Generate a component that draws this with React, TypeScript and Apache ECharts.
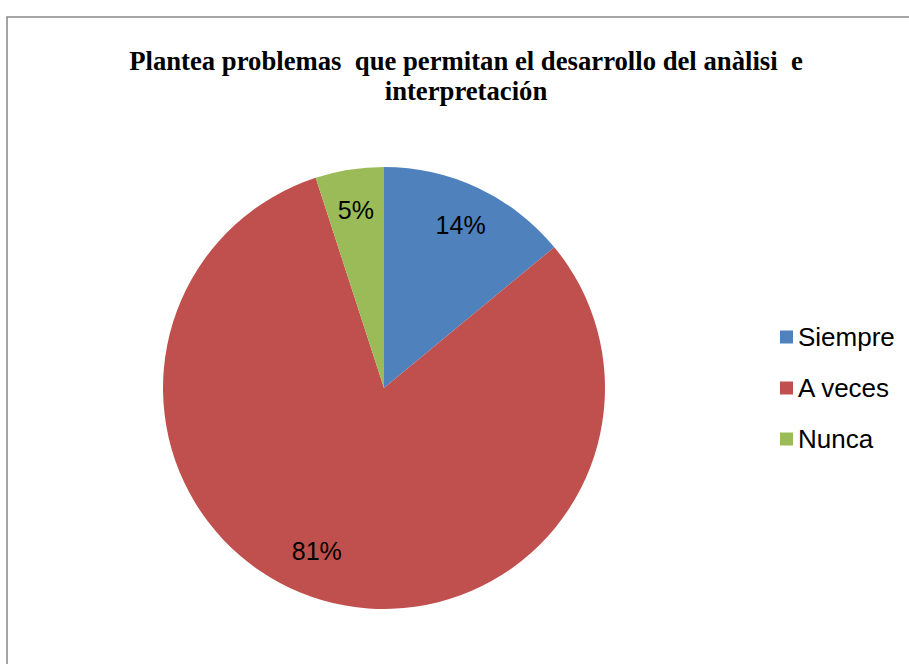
import React, { useEffect, useRef } from "react";
import * as echarts from "echarts";

const categories = ["Siempre", "A veces", "Nunca"];
const values = [14, 81, 5];
const colors = ["#4F81BD", "#C0504D", "#9BBB59"];
const titleText = "Plantea problemas  que permitan el desarrollo del anàlisi  e\ninterpretación";

export default function App() {
  const ref = useRef<HTMLDivElement>(null);
  useEffect(() => {
    const chart = echarts.init(ref.current!, null, { renderer: "svg" });
    const data = categories.map((name, i) => ({ name, value: values[i] }));
    chart.setOption({
      animation: false,
      backgroundColor: "#ffffff",
      color: colors,
      title: {
        text: titleText,
        left: 461,
        top: 41,
        textAlign: "center",
        textStyle: {
          fontFamily: "Liberation Serif",
          fontWeight: "bold",
          fontSize: 26.7,
          lineHeight: 30,
          color: "#000000",
        },
      },
      graphic: [
        {
          type: "rect",
          shape: { x: 7, y: 17, width: 1000, height: 1000 },
          style: { fill: "none", stroke: "#888888", lineWidth: 1.5 },
          silent: true,
          z: -10,
        },
      ],
      legend: {
        orient: "vertical",
        left: 775,
        top: 319,
        itemWidth: 13,
        itemHeight: 13,
        itemGap: 25,
        icon: "rect",
        textStyle: {
          fontFamily: "Liberation Sans",
          fontSize: 26,
          lineHeight: 25,
          color: "#000000",
        },
        data: categories,
      },
      series: [
        {
          type: "pie",
          center: [384, 388],
          radius: [0, 221],
          startAngle: 90,
          clockwise: true,
          label: { show: false },
          labelLine: { show: false },
          emphasis: { disabled: true },
          data,
        },
        {
          type: "pie",
          center: [384, 388],
          radius: [133, 221],
          startAngle: 90,
          clockwise: true,
          silent: true,
          itemStyle: { color: "rgba(0,0,0,0)" },
          label: {
            show: true,
            position: "inside",
            formatter: "{c}%",
            fontFamily: "Liberation Sans",
            fontSize: 25,
            color: "#000000",
          },
          labelLayout: (p: any) =>
            p.dataIndex === 1 ? { dx: -17, dy: -10 } : {},
          labelLine: { show: false },
          emphasis: { disabled: true },
          legendHoverLink: false,
          data,
        },
      ],
    });
    return () => chart.dispose();
  }, []);
  return (
    <div
      ref={ref}
      style={{ position: "fixed", left: 0, top: 0, width: 909, height: 664 }}
    />
  );
}
